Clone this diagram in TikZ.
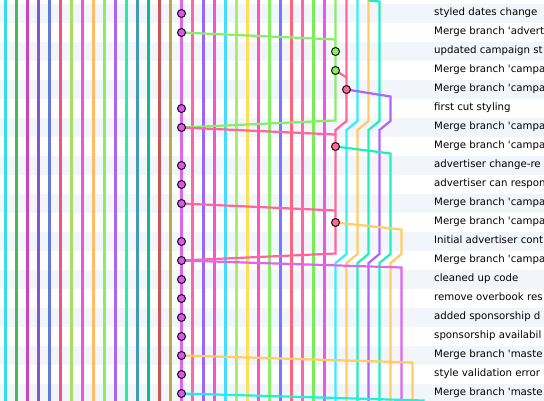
\documentclass[tikz,border=0pt]{standalone}
\usepackage{fontspec}
\setmainfont{DejaVu Sans}
\definecolor{rowbg}{HTML}{F2F5FA}
\definecolor{lane0}{HTML}{33DDEE}
\definecolor{lane1}{HTML}{44BB55}
\definecolor{lane2}{HTML}{CC44BB}
\definecolor{lane3}{HTML}{8855CC}
\definecolor{lane4}{HTML}{6677DD}
\definecolor{lane5}{HTML}{EE5588}
\definecolor{lane6}{HTML}{AADD66}
\definecolor{lane7}{HTML}{EE55DD}
\definecolor{lane8}{HTML}{FFBB66}
\definecolor{lane9}{HTML}{88EE66}
\definecolor{lane10}{HTML}{AA66EE}
\definecolor{lane11}{HTML}{22EEAA}
\definecolor{lane12}{HTML}{4499BB}
\definecolor{lane13}{HTML}{11BB88}
\definecolor{lane14}{HTML}{CC5555}
\definecolor{lane15}{HTML}{BBAA44}
\definecolor{lane16}{HTML}{DD66EE}
\definecolor{lane17}{HTML}{FF66AA}
\definecolor{lane18}{HTML}{9966FF}
\definecolor{lane19}{HTML}{EE55DD}
\definecolor{lane20}{HTML}{44DDFF}
\definecolor{lane21}{HTML}{AAEE66}
\definecolor{lane22}{HTML}{FFDD55}
\definecolor{lane23}{HTML}{FF55BB}
\definecolor{lane24}{HTML}{88EE66}
\definecolor{lane25}{HTML}{7777FF}
\definecolor{lane26}{HTML}{FF6677}
\definecolor{lane27}{HTML}{FF66AA}
\definecolor{lane28}{HTML}{77EE55}
\definecolor{lane29}{HTML}{EE55EE}
\definecolor{greenb}{HTML}{88EE66}
\definecolor{pinkb}{HTML}{FF6699}
\definecolor{cyanb}{HTML}{33EEFF}
\definecolor{yellowb}{HTML}{FFCC66}
\definecolor{tealb}{HTML}{22EEBB}
\definecolor{purpleb}{HTML}{AA66FF}
\definecolor{magb}{HTML}{DD66EE}
\definecolor{tealc}{HTML}{22EEDD}
\definecolor{mainfill}{HTML}{DD55EE}

\begin{document}
\begin{tikzpicture}[x=1pt,y=-1pt,
  lane/.style={line width=2.2pt},
  dot/.style={circle,draw=black,line width=0.9pt,inner sep=0pt,minimum size=8pt},
  msg/.style={anchor=base west,inner sep=0pt,font=\fontsize{10.2}{12}\selectfont}]
\clip (0,0) rectangle (544,401);
\fill[white] (0,0) rectangle (544,401);
\foreach \i in {0,2,...,20}
  \fill[rowbg] (0,{4+19*\i}) rectangle (544,{23+19*\i});
\foreach \k in {0,...,29}
  \draw[lane,lane\k] ({5.5+11*\k},-2) -- ({5.5+11*\k},403);
\foreach \i in {0,...,20}
  \coordinate (m\i) at (181.5,{13.5+19*\i});
\coordinate (g2) at (335.5,51.5);
\coordinate (g3) at (335.5,70.5);
\coordinate (p4) at (346.5,89.5);
\coordinate (p7) at (335.5,146.5);
\coordinate (p11) at (335.5,222.5);
\draw[lane,greenb] (335.5,-2) -- (g2) -- (g3) -- (335.5,120.5) -- (m6);
\draw[lane,greenb] (m1) -- (335.5,39.5);
\draw[lane,pinkb] (346.5,-2) -- (p4) -- (346.5,121) -- (335.5,130) -- (p7) -- (p11) -- (335.5,253.5) -- (m13);
\draw[lane,pinkb] (g3) -- (346.5,77.5);
\draw[lane,pinkb] (m6) -- (335.5,134.5);
\draw[lane,pinkb] (m10) -- (335.5,210.5);
\draw[lane,cyanb] (357.5,-2) -- (357.5,121) -- (346.5,130) -- (346.5,254) -- (335.5,263) -- (335.5,403);
\draw[lane,yellowb] (368.5,-2) -- (368.5,121) -- (357.5,130) -- (357.5,254) -- (346.5,263) -- (346.5,403);
\draw[lane,tealb] (368.5,0.5) -- (379.5,1.5) -- (379.5,121) -- (368.5,130) -- (368.5,254) -- (357.5,263) -- (357.5,403);
\draw[lane,purpleb] (p4) -- (390.5,96.5) -- (390.5,121) -- (379.5,130) -- (379.5,254) -- (368.5,263) -- (368.5,403);
\draw[lane,tealb] (p7) -- (390.5,153.5) -- (390.5,254) -- (379.5,263) -- (379.5,403);
\draw[lane,yellowb] (p11) -- (401.5,229.5) -- (401.5,254) -- (390.5,263) -- (390.5,403);
\draw[lane,magb] (m13) -- (401.5,267.5) -- (401.5,403);
\draw[lane,yellowb] (m18) -- (412.5,362.5) -- (412.5,403);
\draw[lane,tealc] (m20) -- (423.5,400.5) -- (423.5,410);
\foreach \i in {0,1,5,6,8,9,10,12,13,14,15,16,17,18,19,20}
  \node[dot,fill=mainfill] (dm\i) at (m\i) {};
\node[dot,fill=greenb] (dg2) at (g2) {};
\node[dot,fill=greenb] (dg3) at (g3) {};
\node[dot,fill=pinkb] (dp4) at (p4) {};
\node[dot,fill=pinkb] (dp7) at (p7) {};
\node[dot,fill=pinkb] (dp11) at (p11) {};
\foreach \t [count=\i from 0] in {styled dates change,
    Merge branch \textquotesingle advert,
    updated campaign st,
    Merge branch \textquotesingle campa,
    Merge branch \textquotesingle campa,
    first cut styling,
    Merge branch \textquotesingle campa,
    Merge branch \textquotesingle campa,
    advertiser change-re,
    advertiser can respon,
    Merge branch \textquotesingle campa,
    Merge branch \textquotesingle campa,
    Initial advertiser cont,
    Merge branch \textquotesingle campa,
    cleaned up code,
    remove overbook res,
    added sponsorship d,
    sponsorship availabil,
    Merge branch \textquotesingle maste,
    style validation error,
    Merge branch \textquotesingle maste}
  \node[msg] (t\i) at (434,{15.5+19*\i}) {\t};
\end{tikzpicture}
\end{document}
